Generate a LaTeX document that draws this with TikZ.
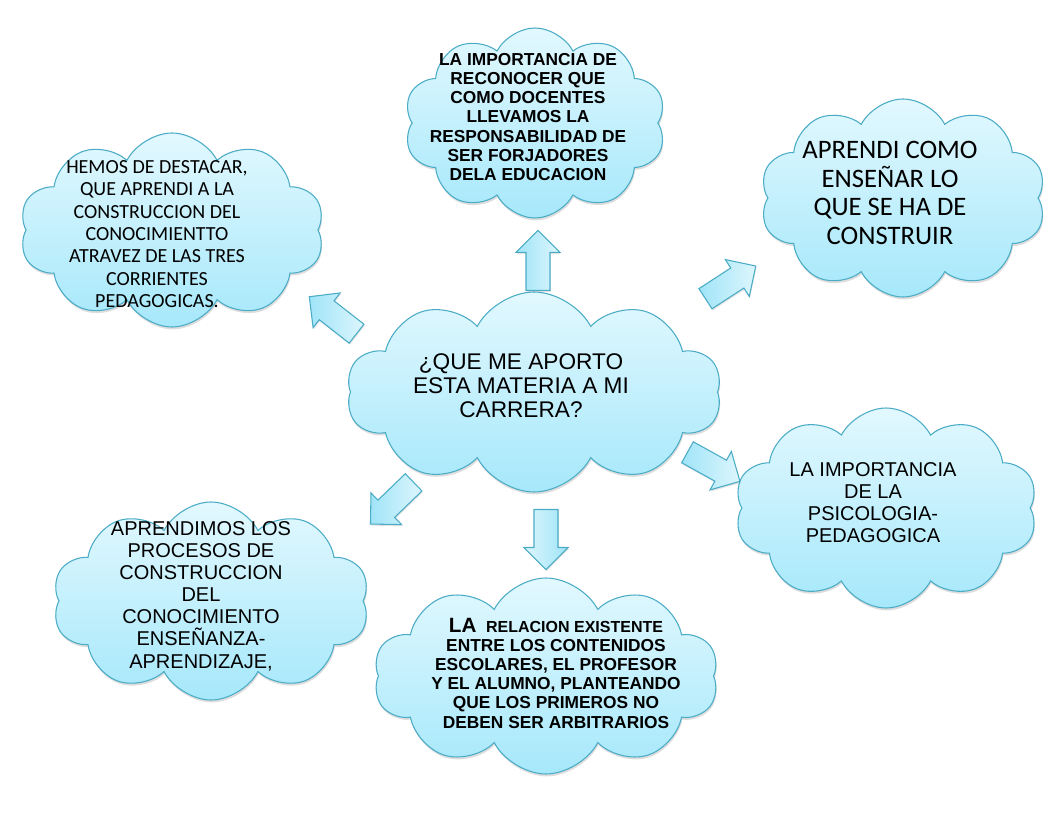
\documentclass[tikz,border=0pt]{standalone}
\usepackage{fontspec}
\setmainfont{Liberation Sans}
\newfontfamily\calibri{Carlito}
\usetikzlibrary{shapes.symbols,shapes.arrows,shadows}
\definecolor{aqline}{HTML}{4BACC6}
\definecolor{cltop}{HTML}{E2F8FE}
\definecolor{clbot}{HTML}{A6E8FB}
\definecolor{artip}{HTML}{DDF6FD}
\definecolor{artail}{HTML}{A0E4F8}
\begin{document}
\begin{tikzpicture}[x=0.75pt,y=-0.75pt,
  cloudbox/.style={cloud, cloud puffs=10, cloud puff arc=125, cloud ignores aspect,
    draw=aqline, line width=0.8pt, top color=cltop, bottom color=clbot, inner sep=0pt,
    drop shadow={shadow xshift=0.6pt, shadow yshift=-1.8pt, opacity=0.22, fill=black!60}},
  blockarrow/.style={single arrow, draw=aqline, line width=0.8pt, inner xsep=0pt,
    inner ysep=8.6pt, minimum height=45pt, single arrow head extend=7.5pt,
    single arrow tip angle=90, anchor=tail, left color=artail, right color=artip,
    drop shadow={shadow xshift=0.5pt, shadow yshift=-1.2pt, opacity=0.18, fill=black!60}},
  txt/.style={align=center, text=black, inner sep=0pt}]
\fill[white] (0,0) rectangle (1047,816);
\useasboundingbox (0,0) rectangle (1047,816);

% clouds
\node[cloudbox, minimum width=281.25pt, minimum height=150pt] (c0) at (534,392) {};
\node[cloudbox, minimum width=196.5pt, minimum height=142.5pt] (c1) at (535,123) {};
\node[cloudbox, minimum width=228.75pt, minimum height=145.5pt] (c2) at (172,230) {};
\node[cloudbox, minimum width=214.5pt, minimum height=148.5pt] (c3) at (903,198) {};
\node[cloudbox, minimum width=227.25pt, minimum height=150pt] (c4) at (886,508) {};
\node[cloudbox, minimum width=258.75pt, minimum height=147pt] (c5) at (546,676) {};
\node[cloudbox, minimum width=237.75pt, minimum height=148.5pt] (c6) at (211,601) {};

% block arrows
\node[blockarrow, rotate=90] (a1) at (538,291) {};
\node[blockarrow, rotate=33] (a2) at (705,299) {};
\node[blockarrow, rotate=-29] (a3) at (687,452) {};
\node[blockarrow, rotate=-90, left color=artip, right color=artail] (a4) at (546,509) {};
\node[blockarrow, rotate=224] (a5) at (414,482) {};
\node[blockarrow, rotate=142] (a6) at (357,334) {};

% texts
\node[txt, font=\fontsize{17}{18}\selectfont] (t0) at (521,386)
  {¿QUE ME APORTO\\ESTA MATERIA A MI\\CARRERA?};
\node[txt, font=\bfseries\fontsize{13}{14.4}\selectfont] (t1) at (528,117)
  {LA IMPORTANCIA DE\\RECONOCER QUE\\COMO DOCENTES\\LLEVAMOS LA\\RESPONSABILIDAD DE\\SER FORJADORES\\DELA EDUCACION};
\node[txt, font=\calibri\fontsize{15}{16.75}\selectfont] (t2) at (157,234)
  {HEMOS DE DESTACAR,\\QUE APRENDI A LA\\CONSTRUCCION DEL\\CONOCIMIENTTO\\ATRAVEZ DE LAS TRES\\CORRIENTES\\PEDAGOGICAS.};
\node[txt, font=\calibri\fontsize{20}{21.5}\selectfont] (t3) at (890,193)
  {APRENDI COMO\\ENSEÑAR LO\\QUE SE HA DE\\CONSTRUIR};
\node[txt, font=\fontsize{15}{16.5}\selectfont] (t4) at (873,503)
  {LA IMPORTANCIA\\DE LA\\PSICOLOGIA-\\PEDAGOGICA};
\node[txt, font=\bfseries\fontsize{13}{14.4}\selectfont] (t5) at (556,673)
  {{\fontsize{15.5}{14.4}\selectfont LA}\ \ {\fontsize{12}{14.4}\selectfont RELACION EXISTENTE}\\ENTRE LOS CONTENIDOS\\ESCOLARES, EL PROFESOR\\Y EL ALUMNO, PLANTEANDO\\QUE LOS PRIMEROS NO\\DEBEN SER ARBITRARIOS};
\node[txt, font=\fontsize{15}{16.6}\selectfont] (t6) at (201,596)
  {APRENDIMOS LOS\\PROCESOS DE\\CONSTRUCCION\\DEL\\CONOCIMIENTO\\ENSEÑANZA-\\APRENDIZAJE,};
\end{tikzpicture}
\end{document}
